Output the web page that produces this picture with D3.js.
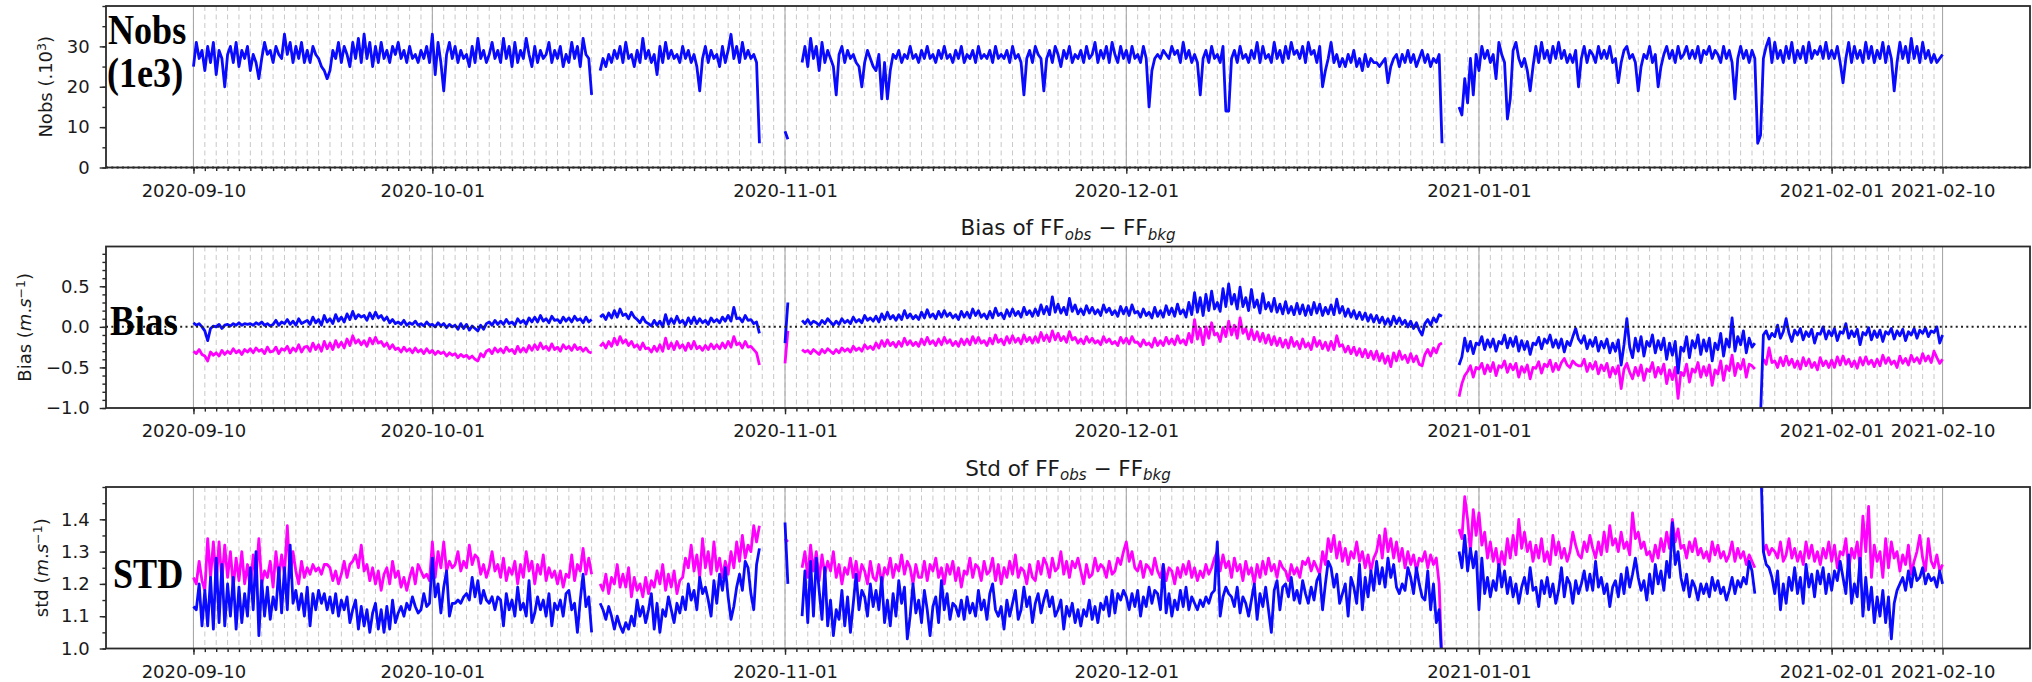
<!DOCTYPE html>
<html>
<head>
<meta charset="utf-8">
<script src="https://cdn.jsdelivr.net/npm/d3@7"></script>
<style>
  body { margin: 0; background: #fff; }
</style>
</head>
<body>
<svg id="chart" width="2032" height="682" font-family="DejaVu Sans, sans-serif"></svg>
<script>
const NA = null

// 6-hourly values, 2020-09-10 00UTC .. 2021-02-10 18UTC, one line = 7 days
const nobs = [
  25,31,27,29, 24,30,26,31, 23,29,27,20, 28,30,26,31, 25,29,27,30, 24,28,26,22, 27,31,28,29,
  26,30,28,27, 33,28,31,26, 30,27,31,26, 29,26,30,28, 27,25,24,22, 24,29,27,31, 26,30,28,25,
  31,27,32,26, 33,27,31,25, 30,26,31,27, 29,26,30,28, 31,27,29,26, 30,27,28,26, 29,27,30,26,
  33,23,31,26, 19,28,31,27, 30,26,29,27, 28,25,30,26, 32,27,29,26, 28,31,27,29, 26,32,27,30,
  25,31,26,29, 27,32,28,25, 30,26,29,27, 28,31,26,29, 27,30,25,28, 26,31,27,30, 25,32,28,27,
  18,NA,NA,24, 27,25,28,26, 29,27,30,26, 31,27,28,25, 29,26,32,27, 29,26,28,23, 30,26,31,27,
  29,27,28,26, 30,27,29,26, 28,25,19,27, 30,26,29,27, 28,25,30,26, 29,33,27,30, 26,31,27,29,
  27,28,26,6, NA,NA,NA,NA, NA,NA,NA,NA, 9,7,NA,NA, NA,NA,26,30, 25,32,27,30, 24,31,26,29,
  27,25,18,28, 30,26,29,27, 28,26,25,20, 26,29,27,25, 24,28,17,26, 17,24,28,27, 29,26,28,27,
  30,27,28,26, 29,27,30,27, 28,26,29,27, 30,27,28,26, 29,27,30,26, 28,27,29,26, 30,27,28,27,
  29,26,30,27, 28,27,29,26, 30,27,28,26, 18,27,29,26, 30,28,27,19, 27,29,26,30, 28,25,29,27,
  30,26,28,27, 29,26,30,27, 28,31,26,29, 27,30,26,31, 28,26,30,27, 29,26,30,27, 28,26,30,27,
  15,24,27,28, 27,29,28,27, 30,28,29,26, 31,27,29,26, 28,26,18,27, 29,26,30,27, 28,26,30,14,
  14,27,29,26, 30,27,28,26, 29,27,31,26, 30,27,28,26, 31,27,29,26, 30,27,31,28, 29,27,30,26,
  31,28,29,26, 30,20,24,27, 31,26,28,25, 27,25,28,26, 29,25,27,24, 28,25,27,26, 26,25,26,27,
  21,25,27,28, 25,28,26,29, 26,28,25,27, 29,26,28,25, 27,26,28,6, NA,NA,NA,NA, NA,15,13,22,
  16,27,18,28, 24,30,27,29, 26,28,22,31, 28,26,12,17, 29,31,27,25, 27,24,19,25, 30,26,31,27,
  29,26,30,27, 31,27,29,26, 28,26,29,20, 27,30,26,29, 28,26,30,27, 29,27,30,26, 27,21,26,29,
  30,27,28,26, 19,25,28,27, 30,26,28,20, 25,28,30,27, 29,26,30,27, 28,30,27,29, 27,30,26,29,
  28,30,27,29, 28,26,30,27, 29,26,17,27, 30,27,29,26, 29,27,6,8, 27,30,32,26, 31,27,29,26,
  30,27,31,26, 29,27,30,26, 31,27,29,28, 30,27,31,27, 29,27,30,26, 21,27,31,26, 30,27,29,26,
  31,27,30,26, 29,27,31,26, 30,27,19,26, 31,27,30,26, 32,27,30,26, 31,27,29,26, 28,26,27,28
]

const biasBlue = [
  .05,.02,.04,.00, -.05,-.17,-.02,.01, .00,.03,-.02,.02, .03,.01,.04,.02, .05,.02,.04,.03, .04,.02,.05,.03, .06,.02,.04,.01,
  .03,.08,.02,.06, .04,.09,.03,.07, .02,.10,.04,.06, .08,.03,.12,.05, .09,.02,.14,.06, .10,.04,.15,.07, .12,.06,.16,.09,
  .19,.10,.15,.12, .14,.08,.17,.10, .18,.11,.14,.08, .12,.05,.09,.04, .06,.03,.08,.02, .05,.03,.07,.02, .04,.01,.06,.02,
  .03,.00,.05,.01, .04,-.01,.03,.00, .02,-.03,.04,-.02, .03,-.04,.01,-.02, -.05,.02,-.03,.04, .06,.02,.08,.03, .07,.03,.09,.04,
  .06,.02,.10,.05, .08,.03,.11,.06, .12,.06,.14,.07, .10,.05,.13,.08, .09,.05,.12,.07, .11,.06,.13,.08, .10,.05,.12,.06,
  .09,NA,NA,.12, .15,.09,.17,.11, .20,.12,.22,.14, .16,.10,.18,.12, .09,.05,.12,.06, .04,.01,.08,.02, .07,.00,.15,.03,
  .10,.04,.13,.05, .08,.02,.11,.04, .12,.04,.10,.05, .08,.03,.11,.06, .09,.05,.12,.07, .14,.07,.24,.10, .11,.06,.14,.08,
  .09,.04,.06,-.08, NA,NA,NA,NA, NA,NA,NA,NA, -.20,.30,NA,NA, NA,NA,.08,.04, .09,.03,.07,.05, .02,.08,.04,.10,
  .06,.02,.07,.03, .10,.05,.08,.04, .12,.06,.09,.05, .14,.08,.11,.07, .13,.06,.16,.09, .18,.10,.14,.08, .15,.09,.20,.11,
  .16,.10,.14,.09, .18,.11,.21,.12, .16,.10,.19,.12, .20,.13,.17,.11, .15,.09,.19,.12, .18,.11,.22,.14, .20,.12,.16,.10,
  .19,.11,.23,.14, .17,.10,.21,.13, .22,.14,.19,.12, .24,.15,.20,.13, .22,.14,.27,.16, .25,.15,.37,.18, .28,.17,.24,.15,
  .35,.19,.27,.16, .22,.15,.26,.17, .24,.16,.21,.14, .27,.18,.23,.15, .20,.13,.25,.16, .24,.14,.27,.17, .19,.12,.22,.14,
  .18,.11,.24,.13, .20,.12,.26,.15, .23,.13,.28,.16, .21,.12,.30,.15, .42,.18,.36,.14, .40,.20,.44,.22, .30,.19,.47,.25,
  .53,.28,.40,.22, .49,.25,.36,.20, .46,.24,.33,.17, .41,.22,.30,.19, .35,.18,.28,.16, .31,.17,.25,.15, .29,.16,.27,.14,
  .26,.15,.30,.17, .28,.14,.24,.16, .27,.15,.34,.17, .25,.13,.22,.12, .20,.10,.18,.09, .17,.07,.15,.06, .14,.05,.12,.03,
  .10,.02,.13,.04, .11,.03,.08,.00, .07,-.02,.05,-.04, -.10,.04,.09,.02, .11,.06,.15,.13, NA,NA,NA,NA, NA,-.47,-.37,-.14,
  -.30,-.18,-.33,-.20, -.22,-.12,-.28,-.16, -.25,-.15,-.30,-.18, -.21,-.10,-.26,-.14, -.24,-.12,-.30,-.17, -.28,-.18,-.34,-.20, -.22,-.13,-.27,-.15,
  -.20,-.10,-.25,-.16, -.26,-.15,-.31,-.18, -.23,-.12,-.02,-.15, -.20,-.11,-.27,-.16, -.24,-.13,-.30,-.18, -.26,-.15,-.32,-.20, -.30,-.16,-.47,-.22,
  .10,-.25,-.38,-.14, -.30,-.12,-.36,-.18, -.24,-.10,-.32,-.17, -.28,-.14,-.40,-.20, -.35,-.18,-.57,-.25, -.30,-.12,-.38,-.17, -.26,-.10,-.34,-.16,
  -.30,-.14,-.42,-.20, -.28,-.08,-.36,-.15, -.25,.11,-.30,-.12, -.22,-.05,-.32,-.14, -.25,-.20,NA,-1.10, -.10,-.05,-.15,-.08, -.12,.02,-.14,-.06,
  .10,-.08,-.18,-.04, -.10,-.02,-.16,-.06, -.12,-.03,-.20,-.08, -.09,.00,-.15,-.05, -.11,-.02,-.17,-.06, -.08,.04,-.14,-.05, -.12,-.03,-.22,-.07,
  -.10,-.01,-.16,-.05, -.13,-.04,-.18,-.06, -.09,-.02,-.15,-.05, -.11,-.03,-.17,-.06, -.10,-.02,-.14,-.04, -.08,-.01,-.12,-.05, -.07,.00,-.20,-.10
]

const biasMagenta = [
  -.30,-.33,-.28,-.34, -.36,-.42,-.31,-.35, -.32,-.36,-.29,-.34, -.30,-.33,-.27,-.32, -.29,-.34,-.28,-.31, -.27,-.32,-.26,-.30, -.28,-.33,-.25,-.31,
  -.30,-.25,-.33,-.27, -.29,-.24,-.32,-.26, -.30,-.22,-.31,-.25, -.24,-.30,-.20,-.28, -.22,-.30,-.18,-.27, -.20,-.28,-.17,-.25, -.19,-.26,-.15,-.23,
  -.11,-.20,-.16,-.22, -.17,-.24,-.14,-.21, -.13,-.20,-.18,-.24, -.20,-.27,-.22,-.28, -.26,-.31,-.25,-.30, -.27,-.32,-.26,-.31, -.28,-.33,-.27,-.32,
  -.29,-.34,-.30,-.33, -.31,-.36,-.32,-.35, -.33,-.38,-.34,-.37, -.35,-.39,-.36,-.40, -.42,-.33,-.37,-.30, -.28,-.33,-.26,-.31, -.27,-.32,-.25,-.30,
  -.28,-.33,-.24,-.31, -.26,-.31,-.23,-.29, -.22,-.28,-.20,-.27, -.24,-.29,-.21,-.28, -.25,-.30,-.22,-.27, -.24,-.29,-.22,-.28, -.25,-.30,-.26,-.31,
  -.32,NA,NA,-.24, -.20,-.26,-.18,-.24, -.14,-.22,-.12,-.20, -.16,-.23,-.18,-.25, -.22,-.28,-.20,-.27, -.26,-.31,-.24,-.30, -.22,-.30,-.14,-.27,
  -.20,-.28,-.18,-.26, -.22,-.29,-.20,-.27, -.18,-.27,-.24,-.29, -.23,-.28,-.21,-.27, -.22,-.27,-.20,-.26, -.18,-.25,-.12,-.22, -.20,-.26,-.18,-.25,
  -.24,-.28,-.32,-.47, NA,NA,NA,NA, NA,NA,NA,NA, -.45,-.05,NA,NA, NA,NA,-.28,-.31, -.29,-.33,-.28,-.31, -.34,-.28,-.32,-.27,
  -.30,-.33,-.28,-.32, -.26,-.30,-.27,-.31, -.24,-.29,-.26,-.30, -.22,-.27,-.24,-.28, -.20,-.26,-.17,-.24, -.16,-.23,-.19,-.25, -.18,-.24,-.14,-.22,
  -.17,-.23,-.19,-.24, -.15,-.22,-.13,-.21, -.17,-.23,-.15,-.22, -.13,-.20,-.16,-.23, -.18,-.24,-.15,-.22, -.15,-.22,-.12,-.20, -.13,-.20,-.17,-.23,
  -.14,-.21,-.10,-.19, -.15,-.22,-.12,-.20, -.11,-.19,-.14,-.21, -.10,-.18,-.13,-.20, -.12,-.19,-.07,-.17, -.10,-.18,-.05,-.16, -.08,-.17,-.12,-.19,
  -.06,-.16,-.13,-.20, -.15,-.21,-.12,-.19, -.14,-.20,-.17,-.22, -.12,-.19,-.15,-.21, -.18,-.23,-.13,-.20, -.14,-.21,-.12,-.19, -.19,-.24,-.16,-.22,
  -.20,-.25,-.14,-.23, -.17,-.23,-.13,-.21, -.15,-.22,-.11,-.20, -.16,-.22,-.08,-.19, .09,-.15,-.02,-.22, .00,-.14,.05,-.10, -.08,-.18,-.01,-.12,
  .07,-.10,.02,-.14, .11,-.08,-.02,-.15, -.03,-.16,-.06,-.18, -.08,-.20,-.10,-.22, -.12,-.23,-.14,-.25, -.16,-.26,-.13,-.24, -.18,-.27,-.15,-.25,
  -.20,-.28,-.13,-.24, -.17,-.27,-.19,-.29, -.18,-.28,-.11,-.24, -.22,-.31,-.24,-.33, -.25,-.35,-.27,-.37, -.28,-.38,-.30,-.40, -.30,-.42,-.33,-.45,
  -.36,-.49,-.32,-.42, -.30,-.40,-.35,-.44, -.33,-.43,-.36,-.46, -.48,-.34,-.28,-.36, -.26,-.32,-.22,-.20, NA,NA,NA,NA, NA,-.86,-.70,-.60,
  -.55,-.48,-.62,-.50, -.52,-.45,-.58,-.47, -.55,-.44,-.60,-.48, -.50,-.42,-.56,-.46, -.53,-.45,-.62,-.49, -.56,-.47,-.64,-.50, -.51,-.43,-.57,-.46,
  -.49,-.41,-.55,-.45, -.53,-.44,-.39,-.47, -.50,-.42,-.46,-.48, -.48,-.40,-.55,-.45, -.52,-.43,-.58,-.47, -.54,-.45,-.62,-.50, -.58,-.48,-.76,-.52,
  -.45,-.56,-.64,-.50, -.60,-.47,-.66,-.52, -.55,-.44,-.62,-.50, -.58,-.46,-.70,-.53, -.65,-.50,-.88,-.56, -.60,-.46,-.68,-.52, -.56,-.44,-.62,-.49,
  -.60,-.47,-.72,-.53, -.58,-.42,-.66,-.48, -.54,-.35,-.60,-.45, -.52,-.40,-.62,-.46, -.48,-.52,NA,NA, -.40,-.46,-.26,-.44, -.42,-.50,-.38,-.48,
  -.36,-.47,-.40,-.50, -.42,-.52,-.38,-.48, -.40,-.50,-.44,-.53, -.38,-.48,-.42,-.50, -.41,-.50,-.37,-.47, -.36,-.46,-.40,-.49, -.42,-.51,-.38,-.47,
  -.37,-.46,-.41,-.49, -.40,-.48,-.35,-.45, -.38,-.46,-.42,-.50, -.36,-.45,-.39,-.47, -.35,-.43,-.38,-.45, -.33,-.42,-.36,-.44, -.30,-.38,-.45,-.40
]

const stdBlue = [
  1.13,1.12,1.20,1.07, 1.18,1.07,1.22,1.06, 1.28,1.08,1.26,1.07, 1.20,1.10,1.22,1.06, 1.19,1.08,1.17,1.10, 1.25,1.12,1.30,1.04, 1.21,1.10,1.19,1.09,
  1.16,1.12,1.25,1.11, 1.25,1.12,1.32,1.14, 1.18,1.12,1.17,1.10, 1.19,1.07,1.17,1.12, 1.18,1.14,1.17,1.12, 1.16,1.11,1.17,1.10, 1.15,1.12,1.16,1.08,
  1.12,1.15,1.06,1.13, 1.07,1.12,1.05,1.11, 1.14,1.06,1.12,1.05, 1.13,1.06,1.15,1.08, 1.11,1.13,1.10,1.14, 1.12,1.16,1.13,1.11, 1.12,1.17,1.13,1.14,
  1.28,1.16,1.20,1.11, 1.19,1.24,1.10,1.14, 1.14,1.15,1.14,1.16, 1.17,1.15,1.22,1.16, 1.21,1.14,1.18,1.15, 1.14,1.16,1.12,1.16, 1.15,1.07,1.17,1.12,
  1.15,1.10,1.19,1.12, 1.14,1.10,1.21,1.08, 1.11,1.16,1.12,1.15, 1.10,1.17,1.07,1.14, 1.12,1.15,1.10,1.17, 1.18,1.12,1.14,1.05, 1.15,1.23,1.13,1.16,
  1.05,NA,NA,1.14, 1.12,1.09,1.13,1.10, 1.06,1.10,1.07,1.05, 1.08,1.06,1.10,1.07, 1.15,1.10,1.13,1.08, 1.12,1.17,1.06,1.14, 1.05,1.12,1.10,1.16,
  1.12,1.08,1.14,1.11, 1.16,1.12,1.20,1.15, 1.18,1.12,1.22,1.17, 1.19,1.15,1.10,1.21, 1.14,1.23,1.18,1.25, 1.16,1.09,1.13,1.19, 1.23,1.18,1.27,1.25,
  1.17,1.12,1.26,1.31, NA,NA,NA,NA, NA,NA,NA,NA, 1.39,1.20,NA,NA, NA,NA,1.10,1.24, 1.08,1.27,1.10,1.28, 1.18,1.09,1.25,1.07,
  1.15,1.04,1.12,1.09, 1.18,1.07,1.16,1.05, 1.14,1.23,1.12,1.18, 1.16,1.10,1.20,1.13, 1.18,1.12,1.22,1.08, 1.15,1.07,1.17,1.10, 1.21,1.14,1.19,1.03,
  1.10,1.20,1.11,1.15, 1.08,1.18,1.12,1.04, 1.13,1.16,1.08,1.21, 1.12,1.17,1.09,1.14, 1.13,1.10,1.15,1.09, 1.16,1.11,1.14,1.10, 1.18,1.12,1.15,1.09,
  1.17,1.20,1.12,1.10, 1.13,1.06,1.15,1.10, 1.14,1.18,1.09,1.12, 1.19,1.13,1.16,1.08, 1.14,1.17,1.11,1.15, 1.18,1.13,1.16,1.10, 1.12,1.15,1.06,1.13,
  1.10,1.14,1.08,1.12, 1.07,1.12,1.10,1.15, 1.09,1.13,1.08,1.14, 1.12,1.16,1.10,1.18, 1.11,1.17,1.15,1.18, 1.16,1.12,1.17,1.13, 1.18,1.10,1.16,1.13,
  1.19,1.14,1.18,1.17, 1.12,1.26,1.11,1.17, 1.10,1.15,1.12,1.18, 1.13,1.19,1.12,1.16, 1.14,1.12,1.15,1.13, 1.16,1.14,1.17,1.18, 1.33,1.10,1.16,1.19,
  1.17,1.16,1.13,1.19, 1.11,1.16,1.14,1.10, 1.15,1.20,1.09,1.17, 1.13,1.19,1.12,1.05, 1.18,1.21,1.12,1.19, 1.20,1.16,1.22,1.15, 1.18,1.14,1.21,1.17,
  1.14,1.19,1.15,1.21, 1.23,1.12,1.20,1.27, 1.25,1.19,1.23,1.14, 1.17,1.20,1.10,1.22, 1.19,1.14,1.26,1.12, 1.22,1.16,1.24,1.18, 1.27,1.20,1.25,1.19,
  1.28,1.22,1.26,1.19, 1.17,1.20,1.18,1.25, 1.22,1.17,1.25,1.20, 1.16,1.15,1.24,1.12, 1.20,1.08,1.12,.95, NA,NA,NA,NA, NA,1.30,1.25,1.35,
  1.24,1.31,1.25,1.30, 1.12,1.28,1.17,1.22, 1.16,1.21,1.18,1.26, 1.19,1.24,1.17,1.22, 1.16,1.20,1.14,1.19, 1.22,1.17,1.25,1.18, 1.19,1.13,1.21,1.17,
  1.22,1.16,1.20,1.14, 1.18,1.25,1.16,1.22, 1.20,1.14,1.21,1.17, 1.20,1.24,1.18,1.23, 1.18,1.27,1.19,1.22, 1.17,1.20,1.13,1.19, 1.21,1.16,1.23,1.17,
  1.25,1.19,1.23,1.28, 1.22,1.18,1.21,1.15, 1.23,1.17,1.26,1.20, 1.24,1.18,1.27,1.22, 1.39,1.26,1.30,1.22, 1.18,1.23,1.16,1.21, 1.19,1.15,1.20,1.17,
  1.20,1.16,1.22,1.18, 1.21,1.17,1.19,1.15, 1.18,1.22,1.17,1.21, 1.19,1.22,1.20,1.27, 1.24,1.17,NA,1.60, 1.30,1.26,1.25,1.22, 1.17,1.24,1.12,1.20,
  1.14,1.22,1.18,1.25, 1.17,1.22,1.14,1.26, 1.19,1.23,1.16,1.24, 1.20,1.25,1.17,1.23, 1.18,1.24,1.21,1.27, 1.22,1.17,1.29,1.14, 1.20,1.16,1.28,1.10,
  1.22,1.12,1.19,1.08, 1.16,1.10,1.18,1.08, 1.16,1.03,1.14,1.18, 1.20,1.22,1.18,1.24, 1.19,1.25,1.21,1.22, 1.25,1.20,1.23,1.21, 1.22,1.19,1.24,1.20
]

const stdMagenta = [
  1.22,1.20,1.27,1.21, 1.18,1.34,1.22,1.33, 1.20,1.33,1.21,1.32, 1.22,1.30,1.19,1.28, 1.21,1.30,1.20,1.26, 1.18,1.29,1.22,1.34, 1.20,1.24,1.22,1.27,
  1.19,1.30,1.22,1.29, 1.23,1.38,1.22,1.30, 1.24,1.20,1.27,1.22, 1.25,1.23,1.26,1.24, 1.25,1.23,1.26,1.26, 1.25,1.21,1.24,1.20, 1.23,1.27,1.22,1.26,
  1.27,1.29,1.25,1.32, 1.24,1.26,1.21,1.25, 1.20,1.24,1.18,1.23, 1.25,1.20,1.27,1.22, 1.24,1.19,1.22,1.18, 1.22,1.25,1.20,1.26, 1.24,1.22,1.23,1.21,
  1.33,1.22,1.30,1.25, 1.33,1.24,1.27,1.25, 1.26,1.30,1.24,1.27, 1.25,1.32,1.26,1.29, 1.28,1.23,1.26,1.22, 1.25,1.30,1.24,1.26, 1.22,1.28,1.21,1.25,
  1.23,1.27,1.20,1.26, 1.22,1.30,1.24,1.27, 1.20,1.26,1.23,1.29, 1.21,1.25,1.22,1.24, 1.20,1.24,1.19,1.23, 1.22,1.29,1.21,1.26, 1.24,1.31,1.23,1.28,
  1.23,NA,NA,1.20, 1.18,1.23,1.17,1.22, 1.20,1.26,1.19,1.23, 1.19,1.25,1.16,1.22, 1.18,1.20,1.16,1.22, 1.17,1.21,1.19,1.24, 1.20,1.26,1.18,1.23,
  1.19,1.24,1.17,1.21, 1.22,1.28,1.25,1.32, 1.24,1.29,1.22,1.34, 1.25,1.30,1.23,1.33, 1.24,1.28,1.22,1.27, 1.23,1.30,1.25,1.33, 1.27,1.35,1.28,1.32,
  1.30,1.38,1.33,1.38, NA,NA,NA,NA, NA,NA,NA,NA, 1.34,1.33,NA,NA, NA,NA,1.25,1.30, 1.22,1.32,1.24,1.30, 1.21,1.29,1.23,1.27,
  1.24,1.30,1.22,1.26, 1.20,1.25,1.23,1.28, 1.22,1.27,1.21,1.26, 1.24,1.20,1.27,1.22, 1.21,1.26,1.20,1.25, 1.23,1.28,1.22,1.26, 1.24,1.29,1.23,1.27,
  1.25,1.20,1.26,1.22, 1.22,1.27,1.21,1.26, 1.24,1.28,1.22,1.25, 1.20,1.26,1.23,1.27, 1.21,1.25,1.19,1.24, 1.23,1.28,1.22,1.26, 1.25,1.21,1.27,1.23,
  1.24,1.28,1.21,1.26, 1.20,1.25,1.22,1.27, 1.23,1.29,1.22,1.25, 1.24,1.20,1.26,1.22, 1.21,1.27,1.23,1.28, 1.26,1.22,1.28,1.24, 1.25,1.30,1.23,1.27,
  1.22,1.27,1.25,1.28, 1.24,1.20,1.26,1.22, 1.23,1.28,1.24,1.26, 1.25,1.22,1.27,1.23, 1.24,1.28,1.26,1.30, 1.33,1.27,1.30,1.25, 1.24,1.27,1.22,1.26,
  1.25,1.23,1.28,1.24, 1.22,1.26,1.21,1.25, 1.24,1.20,1.25,1.22, 1.26,1.23,1.27,1.22, 1.25,1.21,1.24,1.22, 1.26,1.23,1.25,1.28, 1.30,1.24,1.29,1.25,
  1.27,1.22,1.28,1.24, 1.26,1.21,1.27,1.23, 1.25,1.20,1.26,1.22, 1.27,1.23,1.28,1.24, 1.26,1.22,1.27,1.25, 1.24,1.21,1.26,1.23, 1.25,1.22,1.27,1.26,
  1.28,1.24,1.27,1.25, 1.23,1.30,1.26,1.34, 1.30,1.35,1.28,1.33, 1.27,1.31,1.26,1.30, 1.28,1.33,1.27,1.30, 1.25,1.29,1.24,1.28, 1.30,1.35,1.28,1.37,
  1.30,1.34,1.28,1.33, 1.27,1.31,1.25,1.30, 1.26,1.29,1.24,1.28, 1.27,1.30,1.25,1.29, 1.26,1.28,1.20,.95, NA,NA,NA,NA, NA,1.37,1.34,1.47,
  1.40,1.30,1.43,1.35, 1.42,1.32,1.36,1.28, 1.33,1.27,1.31,1.25, 1.30,1.26,1.34,1.28, 1.35,1.29,1.40,1.31, 1.36,1.30,1.33,1.27, 1.32,1.28,1.34,1.27,
  1.30,1.26,1.35,1.29, 1.33,1.28,1.31,1.27, 1.30,1.36,1.32,1.29, 1.28,1.33,1.30,1.35, 1.31,1.28,1.33,1.29, 1.36,1.30,1.38,1.32, 1.34,1.30,1.36,1.31,
  1.33,1.29,1.42,1.34, 1.36,1.31,1.33,1.29, 1.30,1.27,1.32,1.28, 1.34,1.30,1.36,1.31, 1.40,1.33,1.37,1.31, 1.32,1.28,1.33,1.30, 1.34,1.29,1.31,1.28,
  1.30,1.27,1.33,1.29, 1.32,1.28,1.30,1.27, 1.29,1.33,1.27,1.31, 1.28,1.30,1.26,1.29, 1.27,1.25,NA,NA, 1.30,1.32,1.29,1.31, 1.30,1.28,1.33,1.27,
  1.29,1.34,1.28,1.31, 1.27,1.30,1.26,1.33, 1.28,1.32,1.27,1.30, 1.26,1.31,1.28,1.33, 1.27,1.32,1.25,1.30, 1.29,1.34,1.24,1.31, 1.28,1.33,1.25,1.41,
  1.30,1.44,1.22,1.32, 1.27,1.30,1.22,1.34, 1.25,1.33,1.28,1.30, 1.24,1.29,1.26,1.32, 1.23,1.27,1.30,1.35, 1.28,1.24,1.34,1.27, 1.25,1.29,1.24,1.26
]

const tickDates = ["2020-09-10T00:00Z", "2020-10-01T00:00Z", "2020-11-01T00:00Z", "2020-12-01T00:00Z",
                   "2021-01-01T00:00Z", "2021-02-01T00:00Z", "2021-02-10T18:00Z"]

const BLUE = "#0a0aff", MAGENTA = "#ff00ff"

const svg = d3.select("#chart")
svg.append("rect").attr("width", 2032).attr("height", 682).attr("fill", "#fff")

const start = Date.UTC(2020, 8, 10)
const times = nobs.map((v, i) => new Date(start + i * 6 * 3600e3))
const t0 = times[0], t1 = times[times.length - 1]
const pad = (t1 - t0) * 0.05

const left = 106, right = 2030, panelH = 161.5
const x = d3.scaleUtc()
  .domain([new Date(+t0 - pad), new Date(+t1 + pad)])
  .range([left, right])

const majorTicks = tickDates.map(d => new Date(d))
const minorTicks = d3.utcDay.range(t0, new Date(+t1 + 1))

const panels = [
  {top: 6, domain: [0, 40], major: [0, 10, 20, 30], minorStep: 5, fmt: d3.format("d"),
   series: [[nobs, BLUE]], zero: 0, labelX: 52,
   label: [["Nobs (.10"], ["3", "sup"], [")"]],
   tags: [["Nobs", 108, 44, 0.84], ["(1e3)", 107, 87, 0.84]]},
  {top: 246.5, domain: [-1, 0.99], major: [-1, -0.5, 0, 0.5], minorStep: 0.1, fmt: d3.format(".1f"),
   series: [[biasMagenta, MAGENTA], [biasBlue, BLUE]], zero: 0, labelX: 31,
   label: [["Bias ("], ["m", "it"], ["."], ["s", "it"], ["−1", "sup"], [")"]],
   title: [["Bias of FF"], ["obs", "sub"], [" − FF"], ["bkg", "sub"]],
   tags: [["Bias", 110, 335, 0.86]]},
  {top: 487, domain: [1.0, 1.5], major: [1.0, 1.1, 1.2, 1.3, 1.4], minorStep: 0.05, fmt: d3.format(".1f"),
   series: [[stdMagenta, MAGENTA], [stdBlue, BLUE]], zero: null, labelX: 48,
   label: [["std ("], ["m", "it"], ["."], ["s", "it"], ["−1", "sup"], [")"]],
   title: [["Std of FF"], ["obs", "sub"], [" − FF"], ["bkg", "sub"]],
   tags: [["STD", 113, 588, 0.84]]}
]

// text made of plain / italic / super / subscript pieces
function richText(sel, parts, size) {
  let shift = 0
  for (const [str, kind] of parts) {
    const t = sel.append("tspan").text(str)
    let target = 0
    if (kind === "sup") target = -0.36 * size
    if (kind === "sub") target = 0.22 * size
    if (kind === "sup" || kind === "sub") t.attr("font-size", size * 0.7).attr("font-style", "italic")
    if (kind === "sup" && /\d/.test(str)) t.attr("font-style", null)
    if (kind === "it") t.attr("font-style", "italic")
    if (target !== shift) { t.attr("dy", target - shift); shift = target }
  }
}

panels.forEach((p, k) => {
  const top = p.top, bottom = top + panelH
  const y = d3.scaleLinear().domain(p.domain).range([bottom, top])
  const g = svg.append("g")

  const clipId = "clip" + k
  svg.append("clipPath").attr("id", clipId)
    .append("rect").attr("x", left).attr("y", top).attr("width", right - left).attr("height", panelH)

  // grid
  g.append("g").selectAll("line").data(minorTicks).join("line")
    .attr("x1", d => x(d)).attr("x2", d => x(d)).attr("y1", top).attr("y2", bottom)
    .attr("stroke", "#c8c8c8").attr("stroke-width", 1).attr("stroke-dasharray", "5,3.5")
  g.append("g").selectAll("line").data(majorTicks).join("line")
    .attr("x1", d => x(d)).attr("x2", d => x(d)).attr("y1", top).attr("y2", bottom)
    .attr("stroke", "#a8a8a8").attr("stroke-width", 1.1)

  // data
  const line = d3.line()
    .defined(v => v != null)
    .x((v, i) => x(times[i]))
    .y(v => y(v))
  const lines = g.append("g").attr("clip-path", `url(#${clipId})`)
  p.series.forEach(([vals, col]) => {
    lines.append("path").datum(vals)
      .attr("d", line)
      .attr("fill", "none").attr("stroke", col).attr("stroke-width", 2.8)
      .attr("stroke-linejoin", "round")
  })

  if (p.zero != null) {
    g.append("line").attr("x1", left).attr("x2", right)
      .attr("y1", y(p.zero)).attr("y2", y(p.zero))
      .attr("stroke", "#222").attr("stroke-width", 2).attr("stroke-dasharray", "2,3.3")
  }

  // frame
  g.append("rect").attr("x", left).attr("y", top).attr("width", right - left).attr("height", panelH)
    .attr("fill", "none").attr("stroke", "#2a2a2a").attr("stroke-width", 1.8)

  // x axis
  const xa = g.append("g").attr("transform", `translate(0,${bottom})`)
    .call(d3.axisBottom(x).tickValues(majorTicks).tickFormat(d3.utcFormat("%Y-%m-%d")).tickSize(6.3).tickPadding(10))
  const xm = g.append("g").attr("transform", `translate(0,${bottom})`)
    .call(d3.axisBottom(x).tickValues(minorTicks).tickFormat("").tickSize(3.6))

  // y axis
  const [lo, hi] = p.domain
  const minor = d3.range(Math.ceil(lo / p.minorStep - 1e-9), Math.floor(hi / p.minorStep + 1e-9) + 1)
    .map(n => n * p.minorStep)
  const ya = g.append("g").attr("transform", `translate(${left},0)`)
    .call(d3.axisLeft(y).tickValues(p.major).tickFormat(p.fmt).tickSize(6.3).tickPadding(10))
  const ym = g.append("g").attr("transform", `translate(${left},0)`)
    .call(d3.axisLeft(y).tickValues(minor).tickFormat("").tickSize(3.6))

  for (const a of [xa, xm, ya, ym]) {
    a.select(".domain").remove()
    a.attr("font-family", "DejaVu Sans, sans-serif").attr("font-size", 18)
    a.selectAll("line").attr("stroke", "#2a2a2a").attr("stroke-width", 1.4)
    a.selectAll("text").attr("fill", "#1a1a1a")
  }

  // y label
  const yl = g.append("text")
    .attr("transform", `translate(${p.labelX},${(top + bottom) / 2}) rotate(-90)`)
    .attr("text-anchor", "middle").attr("font-size", 18).attr("fill", "#1a1a1a")
  richText(yl, p.label, 18)

  // title
  if (p.title) {
    const tt = g.append("text").attr("x", (left + right) / 2).attr("y", top - 11.5)
      .attr("text-anchor", "middle").attr("font-size", 21.5).attr("fill", "#1a1a1a")
    richText(tt, p.title, 21.5)
  }

  // big annotation labels (condensed bold serif)
  p.tags.forEach(([str, tx, ty, sx]) => {
    g.append("text").attr("transform", `translate(${tx},${ty}) scale(${sx},1)`).text(str)
      .style("font-family", "'Liberation Serif', 'DejaVu Serif', serif")
      .style("font-weight", "bold")
      .attr("font-size", 43).attr("fill", "#000")
  })
})
</script>
</body>
</html>
